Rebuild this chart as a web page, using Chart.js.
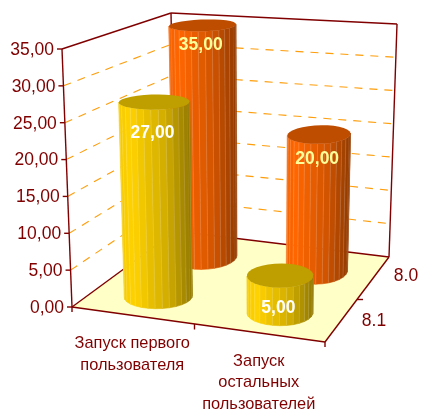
<!DOCTYPE html>
<html>
<head>
<meta charset="utf-8">
<script src="https://cdn.jsdelivr.net/npm/chart.js@4"></script>
<style>
  html, body { margin: 0; padding: 0; background: #fff; }
  canvas { display: block; }
</style>
</head>
<body>
<canvas id="chart" width="422" height="410"></canvas>
<script>
const categories = [['Запуск первого', 'пользователя'], ['Запуск', 'остальных', 'пользователей']];
const seriesNames = ['8.1', '8.0'];
const values81 = [27, 5];
const values80 = [35, 20];
const yTickLabels = ['0,00', '5,00', '10,00', '15,00', '20,00', '25,00', '30,00', '35,00'];
const valueLabels81 = ['27,00', '5,00'];
const valueLabels80 = ['35,00', '20,00'];

const FRAME = '#800000';
const GRID = '#ff9d0a';
const FLOOR = '#ffffc8';
const FONT = '"Liberation Sans", Arial, sans-serif';

// where the box corners sit relative to the chart area (the front left edge)
function corners(ca) {
  return {
    floorFL: [ca.left, ca.bottom],
    floorFR: [ca.right, ca.bottom + 35],
    floorBL: [ca.left + 103.5, ca.bottom - 76],
    floorBR: [ca.right + 64, ca.bottom - 50],
    topFL: [ca.left - 10, ca.top],
    topFR: [ca.right + 3, ca.top + 20],
    topBL: [ca.left + 99, ca.top - 36],
    topBR: [ca.right + 72, ca.top - 25]
  };
}

function mix(a, b, t) {
  return [a[0] + (b[0] - a[0]) * t, a[1] + (b[1] - a[1]) * t];
}

// u along the categories, v into the depth, w up the value axis (all 0..1)
function project(ca, u, v, w) {
  const c = corners(ca);
  const floor = mix(mix(c.floorFL, c.floorFR, u), mix(c.floorBL, c.floorBR, u), v);
  const top = mix(mix(c.topFL, c.topFR, u), mix(c.topBL, c.topBR, u), v);
  return mix(floor, top, w);
}

function shade(hex, f) {
  const n = parseInt(hex.slice(1), 16);
  const r = Math.round((n >> 16 & 255) * f);
  const g = Math.round((n >> 8 & 255) * f);
  const b = Math.round((n & 255) * f);
  return 'rgb(' + r + ',' + g + ',' + b + ')';
}

function sideFactor(s) {
  if (s < 0.15) return 0.96 + s * 0.26;
  if (s < 0.65) return 1 - (s - 0.15) * 0.36;
  return 0.82 - (s - 0.65) * 0.72;
}

const FACETS = 30;
const RADIUS_U = 0.128;
const RADIUS_V = 0.15;

class Cylinder3dController extends Chart.BarController {
  draw() {
    const ctx = this.chart.ctx;
    const ca = this.chart.chartArea;
    const xs = this._cachedMeta.xScale;
    const ys = this._cachedMeta.yScale;
    const ds = this.getDataset();
    const count = this.chart.data.datasets.length;
    const v0 = (this.index + 0.5) / count;

    this._cachedMeta.data.forEach((el, i) => {
      const u0 = (el.x - xs.left) / xs.width;
      const h = (ys.bottom - el.y) / ys.height;
      const top = [];
      const bottom = [];
      for (let k = 0; k <= FACETS; k++) {
        const a = k / FACETS * Math.PI * 2;
        const u = u0 + Math.cos(a) * RADIUS_U;
        const v = v0 + Math.sin(a) * RADIUS_V;
        top.push(project(ca, u, v, h));
        bottom.push(project(ca, u, v, 0));
      }
      let left = bottom[0], right = bottom[0];
      bottom.forEach(p => {
        if (p[0] < left[0]) left = p;
        if (p[0] > right[0]) right = p;
      });

      // front half of the side, facet by facet
      for (let k = 0; k < FACETS; k++) {
        const mid = mix(bottom[k], bottom[k + 1], 0.5);
        const s = (mid[0] - left[0]) / (right[0] - left[0]);
        if (mid[1] < left[1] + (right[1] - left[1]) * s) continue;
        ctx.beginPath();
        ctx.moveTo(top[k][0], top[k][1]);
        ctx.lineTo(top[k + 1][0], top[k + 1][1]);
        ctx.lineTo(bottom[k + 1][0], bottom[k + 1][1]);
        ctx.lineTo(bottom[k][0], bottom[k][1]);
        ctx.closePath();
        const col = shade(ds.backgroundColor, sideFactor(s));
        ctx.fillStyle = col;
        ctx.strokeStyle = col;
        ctx.lineWidth = 0.6;
        ctx.fill();
        ctx.stroke();
        ctx.beginPath();
        ctx.moveTo(top[k][0], top[k][1]);
        ctx.lineTo(bottom[k][0], bottom[k][1]);
        ctx.strokeStyle = 'rgba(255,255,255,0.2)';
        ctx.lineWidth = 0.8;
        ctx.stroke();
      }

      // lid
      ctx.beginPath();
      top.forEach((p, k) => k ? ctx.lineTo(p[0], p[1]) : ctx.moveTo(p[0], p[1]));
      ctx.closePath();
      ctx.fillStyle = shade(ds.backgroundColor, 0.75);
      ctx.fill();

      // value label
      const c = project(ca, u0, v0, h);
      ctx.font = 'bold 17.5px ' + FONT;
      ctx.textAlign = 'center';
      ctx.textBaseline = 'middle';
      ctx.fillStyle = ds.labelColor;
      ctx.fillText(ds.valueLabels[i], c[0] - 2, c[1] + ds.labelDrop[i]);
    });
  }
}
Cylinder3dController.id = 'cylinder3d';
Cylinder3dController.defaults = Chart.BarController.defaults;
Cylinder3dController.overrides = Chart.BarController.overrides;
Chart.register(Cylinder3dController);

function line(ctx, a, b) {
  ctx.beginPath();
  ctx.moveTo(a[0], a[1]);
  ctx.lineTo(b[0], b[1]);
  ctx.stroke();
}

const box3d = {
  id: 'box3d',
  beforeDatasetsDraw(chart) {
    const ctx = chart.ctx;
    const ca = chart.chartArea;
    const ys = chart.scales.y;
    const P = (u, v, w) => project(ca, u, v, w);
    ctx.save();

    // floor
    ctx.beginPath();
    [P(0, 0, 0), P(1, 0, 0), P(1, 1, 0), P(0, 1, 0)].forEach((p, k) => k ? ctx.lineTo(p[0], p[1]) : ctx.moveTo(p[0], p[1]));
    ctx.closePath();
    ctx.fillStyle = FLOOR;
    ctx.fill();

    // dashed grid on the two walls
    ctx.strokeStyle = GRID;
    ctx.lineWidth = 1.1;
    ctx.setLineDash([8, 7]);
    ys.ticks.forEach(t => {
      if (t.value === ys.min || t.value === ys.max) return;
      const w = (ys.bottom - ys.getPixelForValue(t.value)) / ys.height;
      ctx.beginPath();
      const a = P(0, 0, w), b = P(0, 1, w), c = P(1, 1, w);
      ctx.moveTo(a[0], a[1]);
      ctx.lineTo(b[0], b[1]);
      ctx.lineTo(c[0], c[1]);
      ctx.stroke();
    });
    ctx.setLineDash([]);

    // frame
    ctx.strokeStyle = FRAME;
    ctx.lineWidth = 1.4;
    line(ctx, P(0, 0, 0), P(0, 0, 1));
    line(ctx, P(0, 0, 1), P(0, 1, 1));
    line(ctx, P(0, 1, 1), P(1, 1, 1));
    line(ctx, P(1, 1, 1), P(1, 1, 0));
    line(ctx, P(0, 1, 1), P(0, 1, 0));
    line(ctx, P(0, 0, 0), P(1, 0, 0));
    line(ctx, P(1, 0, 0), P(1, 1, 0));
    line(ctx, P(1, 1, 0), P(0, 1, 0));
    line(ctx, P(0, 1, 0), P(0, 0, 0));

    // value axis
    ctx.font = '17.5px ' + FONT;
    ctx.textAlign = 'right';
    ctx.textBaseline = 'middle';
    ctx.fillStyle = FRAME;
    ys.ticks.forEach(t => {
      const w = (ys.bottom - ys.getPixelForValue(t.value)) / ys.height;
      const p = P(0, 0, w);
      line(ctx, [p[0] - 5, p[1]], p);
      ctx.fillText(t.label, p[0] - 8, p[1] + 1);
    });

    // category axis
    [0, 0.5, 1].forEach(u => {
      const p = P(u, 0, 0);
      const nudge = u === 0.5 ? -4 : 0;
      line(ctx, [p[0] + nudge, p[1] + nudge * 0.14], [p[0] + nudge, p[1] + 5]);
    });
    ctx.font = '16.4px ' + FONT;
    ctx.textAlign = 'center';
    categories.forEach((lines, i) => {
      const p = P((i + 0.5) / categories.length, 0, 0);
      lines.forEach((txt, k) => ctx.fillText(txt, p[0] - 3, p[1] + 28 + k * 21.5));
    });

    // depth axis
    const q = P(1, 0.5, 0);
    line(ctx, q, [q[0] + 6, q[1]]);
    ctx.font = '17.5px ' + FONT;
    seriesNames.forEach((name, i) => {
      const p = P(1, (i + 0.5) / seriesNames.length, 0);
      ctx.fillText(name, p[0] + 33, p[1] - i * 2);
    });
    ctx.restore();
  }
};

new Chart(document.getElementById('chart'), {
  type: 'cylinder3d',
  data: {
    labels: categories,
    datasets: [
      { label: seriesNames[0], data: values81, backgroundColor: '#ffd200', clip: false, valueLabels: valueLabels81, labelColor: '#ffffff', labelDrop: [31, 33] },
      { label: seriesNames[1], data: values80, backgroundColor: '#ff6600', clip: false, valueLabels: valueLabels80, labelColor: '#ffff99', labelDrop: [20, 25] }
    ]
  },
  options: {
    responsive: false,
    animation: false,
    events: [],
    layout: { padding: { left: 72, right: 97, top: 49, bottom: 103 } },
    plugins: { legend: { display: false }, tooltip: { enabled: false } },
    grouped: false,
    scales: {
      x: { display: false },
      y: {
        display: false,
        min: 0,
        max: 35,
        ticks: { stepSize: 5, callback: (v, i) => yTickLabels[i] }
      }
    }
  },
  plugins: [box3d]
});
</script>
</body>
</html>
